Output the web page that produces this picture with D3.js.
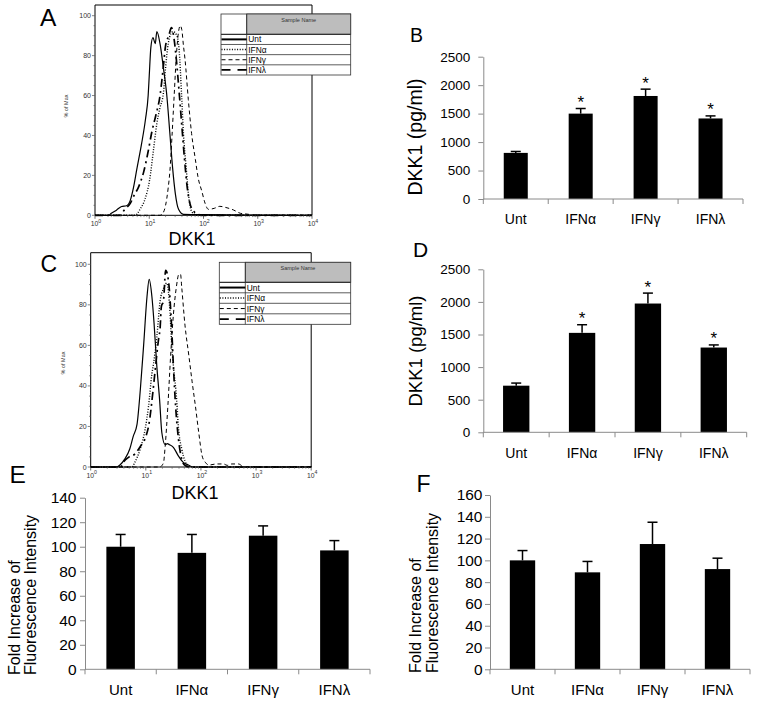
<!DOCTYPE html>
<html><head><meta charset="utf-8">
<script src="https://cdn.jsdelivr.net/npm/d3@7"></script>
<style>
body{margin:0;background:#fff}
svg{display:block}
text{font-family:Arial,"Liberation Sans",sans-serif}
</style>
</head><body>
<svg id="fig" width="759" height="704"></svg>
<script>
// ---------------- DATA ----------------
const groups = ["Unt", "IFNα", "IFNγ", "IFNλ"];

// Panel B (ELISA, pg/ml)
const bMeans = [810, 1500, 1810, 1415];
const bErrs  = [25, 90, 120, 45];
const bStars = [false, true, true, true];
const bTicks = [0, 500, 1000, 1500, 2000, 2500];

// Panel D (ELISA, pg/ml)
const dMeans = [715, 1525, 1975, 1300];
const dErrs  = [40, 125, 160, 40];
const dStars = [false, true, true, true];
const dTicks = [0, 500, 1000, 1500, 2000, 2500];

// Panel E (fold increase of fluorescence intensity)
const eMeans = [100, 95, 109, 97];
const eErrs  = [10, 15, 8, 8];
const eTicks = [0, 20, 40, 60, 80, 100, 120, 140];

// Panel F (fold increase of fluorescence intensity)
const fMeans = [100, 89, 115, 92];
const fErrs  = [9, 10, 20, 10];
const fTicks = [0, 20, 40, 60, 80, 100, 120, 140, 160];

// Histogram axes
const histXTicks = [1, 10, 100, 1000, 10000];
const histXExp   = ["0", "1", "2", "3", "4"];
const histYTicks = [0, 20, 40, 60, 80, 100];

// Panel A histograms: [intensity, % of max]
const histA_Unt = [[1,0],[1.78,0],[2.0,1],[2.51,2.7],[3.09,4.4],[3.8,4.8],[4.47,7.5],[5.13,14],[5.89,23],[7.24,36],[8.51,48],[9.55,60],[10,70],[10.7,84],[11.7,89],[12.9,86],[13.8,92],[15.8,86],[18.2,74],[20.9,61],[24.0,41],[26.9,24],[30.2,11],[34.7,3],[42.7,0.5],[100,0.3],[10000,0]];
const histA_Ifna = [[1,0],[5.5,0],[6.76,3],[8.32,8],[10.2,18],[12.0,33],[13.8,46],[15.8,54],[18.2,61],[20.0,74],[22.4,86],[25.1,91],[27.5,92],[32.4,90],[35.5,83],[39.8,58],[42.7,41],[47.9,24],[52.5,11],[60.3,2],[74.1,0],[10000,0]];
const histA_Ifng = [[1,0],[15.8,0],[17.8,1],[20.0,5],[22.4,14],[24.0,22],[26.3,40],[28.8,60],[31.6,80],[34.7,92],[37.2,95],[39.8,93],[42.7,85],[45.7,78],[52.5,58],[60.3,41],[70.8,28],[79.4,19],[93.3,12],[107,6],[123,3],[158,3.5],[200,4.5],[251,4],[355,2.7],[479,1],[676,0.5],[794,0],[10000,0]];
const histA_Ifnl = [[1,0],[2.82,0],[3.55,3],[4.47,6],[5.25,10],[6.31,14],[7.94,22],[9.55,32],[11.2,42],[13.2,50],[15.8,60],[17.8,72],[20.0,85],[22.9,90],[25.7,94],[28.8,88],[31.6,78],[35.5,62],[39.8,45],[44.7,28],[50.1,14],[56.2,6],[66.1,2],[79.4,0.5],[100,0],[10000,0]];

// Panel C histograms: [intensity, % of max]
const histC_Unt = [[1,0],[2.95,0],[3.39,1],[4.17,4],[5.13,9],[5.89,15],[6.92,21],[7.94,38],[9.12,60],[10.5,84],[11.5,92.6],[12.9,84],[14.1,71],[15.8,50],[17.8,33],[19.5,17],[22.4,11],[24.5,11.5],[26.9,11],[31.6,9.7],[38.9,5.5],[47.9,2.3],[58.9,1],[72.4,0],[10000,0]];
const histC_Ifna = [[1,0],[5.62,0],[6.31,2.3],[7.94,9],[9.77,19],[11.2,30],[12.9,46],[13.8,51],[15.8,64],[18.2,82],[20.9,88],[24.0,90.7],[27.5,76],[29.5,60],[31.6,50],[36.3,33],[38.9,20],[44.7,9],[51.3,3],[58.9,0.5],[72.4,0],[10000,0]];
const histC_Ifng = [[1,0],[17.8,0],[20.9,2],[22.4,10],[25.1,30],[28.2,55],[31.6,75],[35.5,88],[39.8,95],[42.7,95],[44.7,89],[51.3,70],[60.3,55],[69.2,42],[79.4,30],[91.2,17],[105,5.5],[120,2.3],[140,1],[195,1.5],[257,1.5],[300,0.8],[363,1.5],[479,1.5],[562,0.5],[631,0],[10000,0]];
const histC_Ifnl = [[1,0],[3.5,0],[3.89,2.3],[5.0,5],[6.31,6.4],[7.9,10],[10.0,15],[11.2,20],[13.8,40],[14.8,48],[17.0,63],[18.2,69],[19.1,79],[20.9,82],[22.9,97],[25.7,92],[29.5,68],[31.6,50],[34.7,30],[39.8,12],[44.7,4],[50.1,1],[60,0],[10000,0]];

// ---------------- DRAWING ----------------
const svg = d3.select("#fig");
const AX = "#8a8a8a";
const FONT = 'Arial, "Liberation Sans", sans-serif';

function letter(t, x, y, fs){
  svg.append("text").attr("x", x).attr("y", y).attr("font-size", fs).text(t);
}

// line style per series
const styles = [
  {dash: null, w: 1.2},          // Unt solid
  {dash: "1,1.6", w: 1.4},       // IFNα dotted
  {dash: "4,3", w: 1.0},         // IFNγ short dash
  {dash: "8,4,2,4", w: 1.7}      // IFNλ long-short dash
];

function histPanel(o){
  const g = svg.append("g");
  const x = d3.scaleLog().domain([1, 10000]).range([o.left, o.right]);
  const y = d3.scaleLinear().domain([0, 100]).range([o.y0, o.y100]);

  // frame (top and right)
  g.append("path").attr("d", `M${o.left},${o.top}H${o.right}V${o.y0}`)
    .attr("fill", "none").attr("stroke", "#000").attr("stroke-width", 1);

  // curves
  const line = d3.line().x(d => x(d[0])).y(d => y(d[1])).curve(d3.curveMonotoneX);
  o.series.forEach((s, i) => {
    g.append("path").datum(s).attr("d", line)
      .attr("fill", "none").attr("stroke", "#000")
      .attr("stroke-width", styles[i].w)
      .attr("stroke-dasharray", styles[i].dash);
  });

  // left axis line
  g.append("line").attr("x1", o.left).attr("x2", o.left).attr("y1", o.top).attr("y2", o.y0)
    .attr("stroke", "#000");
  // bottom axis line
  g.append("line").attr("x1", o.left).attr("x2", o.right).attr("y1", o.y0).attr("y2", o.y0)
    .attr("stroke", "#000");

  // y ticks
  const minorY = d3.range(0, 101, 5);
  minorY.forEach(v => {
    const major = histYTicks.includes(v);
    g.append("line").attr("x1", o.left - (major ? 3 : 1.5)).attr("x2", o.left)
      .attr("y1", y(v)).attr("y2", y(v)).attr("stroke", "#555").attr("stroke-width", 0.7);
  });
  histYTicks.forEach(v => {
    g.append("text").attr("x", o.left - 4).attr("y", y(v) + 2.5)
      .attr("text-anchor", "end").attr("font-size", 7).attr("fill", "#333").text(v);
  });

  // x ticks (major decades + minor)
  for (let e = 0; e < 4; e++) {
    for (let m = 2; m <= 9; m++) {
      const v = m * Math.pow(10, e);
      g.append("line").attr("x1", x(v)).attr("x2", x(v)).attr("y1", o.y0).attr("y2", o.y0 + 1.8)
        .attr("stroke", "#555").attr("stroke-width", 0.6);
    }
  }
  histXTicks.forEach((v, i) => {
    g.append("line").attr("x1", x(v)).attr("x2", x(v)).attr("y1", o.y0).attr("y2", o.y0 + 3.5)
      .attr("stroke", "#333").attr("stroke-width", 0.7);
    const t = g.append("text").attr("x", x(v) + 1).attr("y", o.y0 + 10.5)
      .attr("text-anchor", "middle").attr("font-size", 6.8).attr("fill", "#333");
    t.append("tspan").text("10");
    t.append("tspan").attr("dy", -3.2).attr("font-size", 5.2).text(histXExp[i]);
  });

  // y label
  g.append("text").attr("transform", `translate(${o.ylabX},${o.ylabY}) rotate(-90)`)
    .attr("text-anchor", "middle").attr("font-size", 5.5).attr("fill", "#333").text("% of Max");

  // x label
  g.append("text").attr("x", o.xlabX).attr("y", o.xlabY).attr("text-anchor", "middle")
    .attr("font-size", 18).text("DKK1");

  // legend
  const L = o.legend;
  const lg = g.append("g");
  lg.append("rect").attr("x", L.x0).attr("y", L.y0).attr("width", L.x1 - L.x0).attr("height", L.y1 - L.y0)
    .attr("fill", "#fff").attr("stroke", "#333").attr("stroke-width", 0.8);
  lg.append("rect").attr("x", L.xd).attr("y", L.y0).attr("width", L.x1 - L.xd).attr("height", L.yh - L.y0)
    .attr("fill", "#bdbdbd").attr("stroke", "#333").attr("stroke-width", 0.8);
  lg.append("line").attr("x1", L.xd).attr("x2", L.xd).attr("y1", L.y0).attr("y2", L.y1)
    .attr("stroke", "#333").attr("stroke-width", 0.8);
  lg.append("line").attr("x1", L.x0).attr("x2", L.x1).attr("y1", L.yh).attr("y2", L.yh)
    .attr("stroke", "#333").attr("stroke-width", 1.2);
  lg.append("text").attr("x", (L.xd + L.x1) / 2).attr("y", L.y0 + 8)
    .attr("text-anchor", "middle").attr("font-size", 5.5).attr("fill", "#333").text("Sample Name");
  const rh = (L.y1 - L.yh) / 4;
  groups.forEach((name, i) => {
    const ry = L.yh + i * rh;
    if (i > 0) lg.append("line").attr("x1", L.x0).attr("x2", L.x1).attr("y1", ry).attr("y2", ry)
      .attr("stroke", "#333").attr("stroke-width", 0.8);
    lg.append("line").attr("x1", L.x0 + 0.5).attr("x2", L.xd).attr("y1", ry + rh / 2).attr("y2", ry + rh / 2)
      .attr("stroke", "#000").attr("stroke-width", i === 0 ? 2 : styles[i].w)
      .attr("stroke-dasharray", i === 3 ? "9,7,2,0" : styles[i].dash);
    lg.append("text").attr("x", L.xd + 1.5).attr("y", ry + rh - 2)
      .attr("font-size", 8.4).attr("fill", "#000").text(name);
  });
}

function barPanel(o){
  const g = svg.append("g");
  const x = d3.scaleBand().domain(groups).range([o.x0, o.x1]);
  const y = d3.scaleLinear().domain([0, o.max]).range([o.y0, o.yTop]);
  const bw = x.bandwidth() * o.barFrac;

  // bars
  groups.forEach((gname, i) => {
    const cx = x(gname) + x.bandwidth() / 2;
    g.append("rect").attr("x", cx - bw / 2).attr("y", y(o.means[i]))
      .attr("width", bw).attr("height", y(0) - y(o.means[i])).attr("fill", "#000");
    const top = y(o.means[i] + o.errs[i]);
    g.append("line").attr("x1", cx).attr("x2", cx).attr("y1", y(o.means[i])).attr("y2", top)
      .attr("stroke", "#000").attr("stroke-width", 1.5);
    g.append("line").attr("x1", cx - 5).attr("x2", cx + 5).attr("y1", top).attr("y2", top)
      .attr("stroke", "#000").attr("stroke-width", 1.5);
    if (o.stars && o.stars[i]) {
      g.append("text").attr("x", cx).attr("y", top - 0.5).attr("text-anchor", "middle")
        .attr("font-size", 17).text("*");
    }
  });

  // y axis
  const ya = g.append("g").attr("transform", `translate(${o.x0},0)`)
    .call(d3.axisLeft(y).tickValues(o.ticks).tickFormat(d3.format("d"))
      .tickSize(5).tickSizeOuter(0).tickPadding(o.pad));
  ya.select(".domain").attr("stroke", AX);
  ya.selectAll(".tick line").attr("stroke", AX);
  ya.selectAll(".tick text").attr("font-size", o.tickFs).attr("font-family", FONT).attr("fill", "#000");

  // x axis
  g.append("line").attr("x1", o.x0).attr("x2", o.x1).attr("y1", o.y0).attr("y2", o.y0).attr("stroke", AX);
  groups.concat(["end"]).forEach((gname, i) => {
    const bx = i < groups.length ? x(gname) : o.x1;
    g.append("line").attr("x1", bx).attr("x2", bx).attr("y1", o.y0).attr("y2", o.y0 + 5).attr("stroke", AX);
  });
  groups.forEach(gname => {
    g.append("text").attr("x", x(gname) + x.bandwidth() / 2).attr("y", o.catY)
      .attr("text-anchor", "middle").attr("font-size", o.catFs).text(gname);
  });

  // y label
  const yl = g.append("text").attr("transform", `translate(${o.ylabX},${o.ylabY}) rotate(-90)`)
    .attr("font-size", o.ylabFs).attr("text-anchor", o.ylabLines ? "start" : "middle");
  if (o.ylabLines) {
    o.ylabLines.forEach((ln, k) => {
      yl.append("tspan").attr("x", 0).attr("dy", k === 0 ? 0 : o.ylabLh).text(ln);
    });
  } else {
    yl.text(o.ylab);
  }
}

// Panel A
histPanel({
  left: 95, right: 312, top: 5, y0: 215.3, y100: 15.7,
  series: [histA_Unt, histA_Ifna, histA_Ifng, histA_Ifnl],
  ylabX: 68, ylabY: 106, xlabX: 192, xlabY: 245,
  legend: {x0: 221, x1: 350.7, y0: 14, y1: 75, yh: 34.3, xd: 246.7}
});
// Panel C
histPanel({
  left: 90.7, right: 311.2, top: 252.7, y0: 467, y100: 264.3,
  series: [histC_Unt, histC_Ifna, histC_Ifng, histC_Ifnl],
  ylabX: 64.5, ylabY: 363, xlabX: 195, xlabY: 499,
  legend: {x0: 219.3, x1: 350.7, y0: 262.3, y1: 324.3, yh: 282.3, xd: 245.3}
});

// Panel B
barPanel({
  x0: 483.3, x1: 743, y0: 199, yTop: 56.7, max: 2500, ticks: bTicks,
  means: bMeans, errs: bErrs, stars: bStars, barFrac: 0.37,
  pad: 8, tickFs: 13.5, catY: 224, catFs: 14,
  ylab: "DKK1 (pg/ml)", ylabX: 422, ylabY: 137, ylabFs: 19.5
});
// Panel D
barPanel({
  x0: 483.3, x1: 746.7, y0: 432.3, yTop: 269.3, max: 2500, ticks: dTicks,
  means: dMeans, errs: dErrs, stars: dStars, barFrac: 0.4,
  pad: 8, tickFs: 13.5, catY: 458, catFs: 14,
  ylab: "DKK1 (pg/ml)", ylabX: 422, ylabY: 351, ylabFs: 18.5
});
// Panel E
barPanel({
  x0: 85, x1: 370, y0: 669.3, yTop: 497.7, max: 140, ticks: eTicks,
  means: eMeans, errs: eErrs, barFrac: 0.4,
  pad: 3.5, tickFs: 15.5, catY: 695, catFs: 15,
  ylabLines: ["Fold Increase of", "Fluorescence Intensity"], ylabX: 19.5, ylabY: 675, ylabFs: 16, ylabLh: 16.5
});
// Panel F
barPanel({
  x0: 490, x1: 750, y0: 669.3, yTop: 495, max: 160, ticks: fTicks,
  means: fMeans, errs: fErrs, barFrac: 0.39,
  pad: 2.5, tickFs: 15.5, catY: 695, catFs: 15,
  ylabLines: ["Fold Increase of", "Fluorescence Intensity"], ylabX: 421, ylabY: 673, ylabFs: 16, ylabLh: 16.5
});

// Panel letters
letter("A", 40, 26, 24.5);
letter("B", 410, 42.3, 19.5);
letter("C", 40.5, 271.7, 23);
letter("D", 413, 256.7, 21);
letter("E", 9.5, 482.7, 24.5);
letter("F", 416.5, 491.7, 23);
</script>
</body></html>
